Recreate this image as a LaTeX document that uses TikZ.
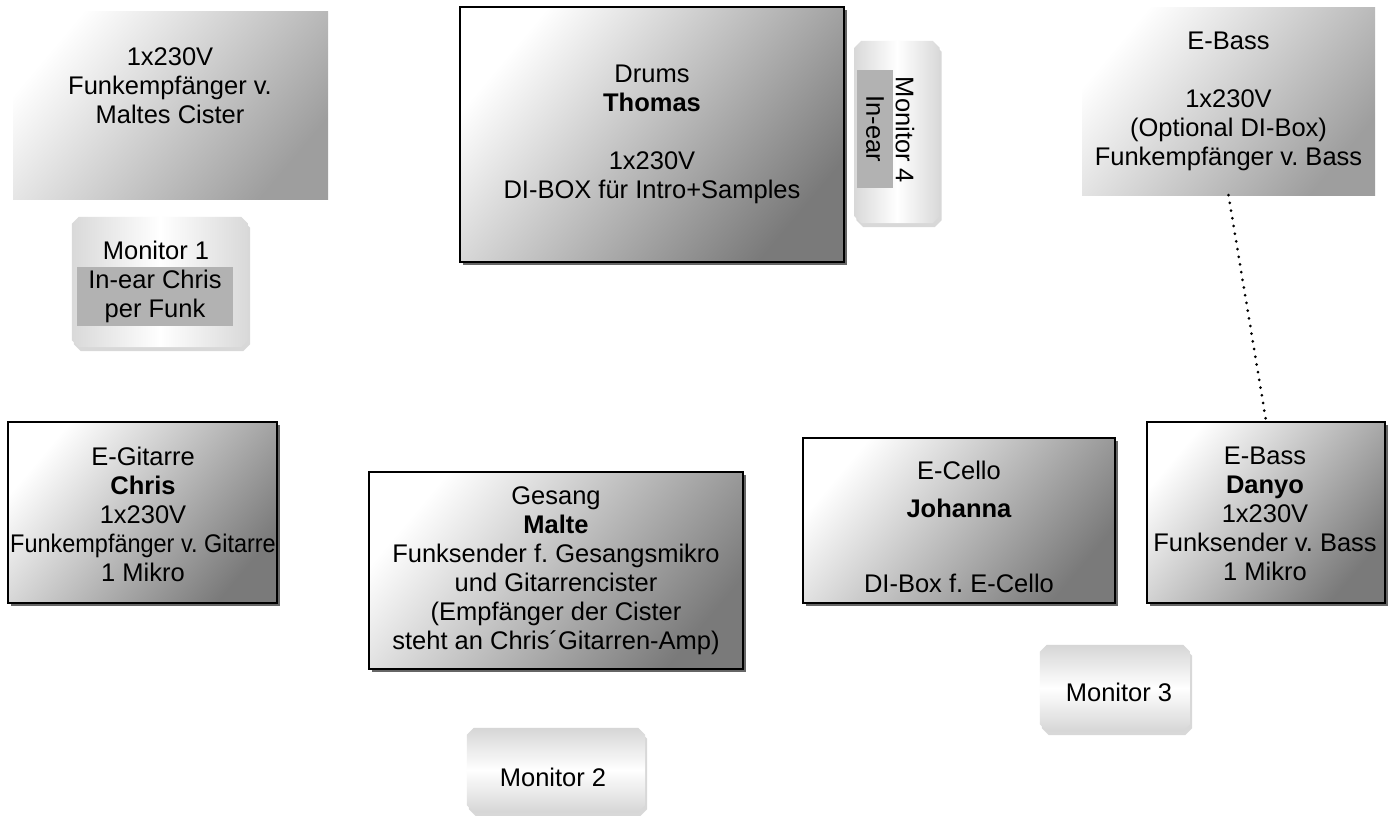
\documentclass[tikz,border=0pt]{standalone}
\usepackage{graphicx}
\usepackage{fontspec}
\setmainfont{Liberation Sans}
\usetikzlibrary{shadows}
\newcommand\monshape[2]{%
  \path[#2] ([xshift=7pt]#1.north west) -- ([xshift=-7pt]#1.north east) -- ([yshift=-7pt]#1.north east)
    -- ([yshift=7pt]#1.south east) -- ([xshift=-7pt]#1.south east) -- ([xshift=7pt]#1.south west)
    -- ([yshift=7pt]#1.south west) -- ([yshift=-7pt]#1.north west) -- cycle;}
\tikzset{
  txt/.style={align=center, font=\fontsize{25.5}{29}\selectfont\frenchspacing, inner sep=0pt},
  plainbox/.style={txt, rectangle, draw=none, top color=white, bottom color=black!38, shading angle=50},
  stagebox/.style={txt, rectangle, draw=black, line width=2.5pt, top color=white, bottom color=black!52, shading angle=50,
    drop shadow={shadow xshift=3pt, shadow yshift=-3pt, fill=black!60, opacity=1}},
  monframe/.style={rectangle, draw=none, inner sep=0pt},
  monbase/.style={drop shadow={shadow xshift=2pt, shadow yshift=-4pt, fill=black!25, opacity=0.6}},
  monv/.style={monbase, top color=black!16, bottom color=black!16, middle color=white},
  monh/.style={monbase, left color=black!15, right color=black!15, middle color=white},
  graylabel/.style={txt, rectangle, fill=black!30, draw=none},
  dotline/.style={line width=3pt, line cap=round, dash pattern=on 0pt off 7.8pt}
}
\begin{document}
\begin{tikzpicture}[x=1pt,y=-1pt]
\useasboundingbox[fill=white] (0,0) rectangle (1395,816);

% top row
\node[plainbox, minimum width=315pt, minimum height=187pt] (b1) at (170.5,105.5) {};
\node[txt] (b1t) at (170,86) {1x230V\\Funkempfänger v.\\Maltes Cister};

\node[stagebox, minimum width=384pt, minimum height=255pt] (drums) at (652,134.5)
  {Drums\\\textbf{Thomas}\\[29pt]1x230V\\DI-BOX für Intro+Samples};

\node[monframe, minimum width=85pt, minimum height=182pt] (m4) at (897,132) {};
\monshape{m4}{monh}
\node[graylabel, rotate=-90, minimum width=118pt, minimum height=36pt] (m4l) at (875,129) {In-ear};
\node[txt, rotate=-90] (m4t) at (905,130) {Monitor 4};

\node[plainbox, minimum width=293pt, minimum height=187pt] (ebt) at (1228.5,101.5)
  {E-Bass\\[29pt]1x230V\\(Optional DI-Box)\\Funkempfänger v. Bass};

% monitor 1
\node[monframe, minimum width=176pt, minimum height=130pt] (m1) at (160,282) {};
\monshape{m1}{monh}
\node[graylabel, minimum width=156pt, minimum height=59pt] (m1l) at (155,296.5) {In-ear Chris\\per Funk};
\node[txt] (m1t) at (156,250) {Monitor 1};

% middle row
\node[stagebox, minimum width=269pt, minimum height=181pt] (git) at (142.5,512.5) {};
\node[txt] (gitt) at (143,514) {E-Gitarre\\\textbf{Chris}\\1x230V\\\scalebox{0.92}[1]{Funkempfänger v. Gitarre}\\1 Mikro};

\node[stagebox, minimum width=374pt, minimum height=197pt] (malte) at (556,570.5)
  {Gesang\\\textbf{Malte}\\Funksender f. Gesangsmikro\\und Gitarrencister\\(Empfänger der Cister\\steht an Chris´Gitarren-Amp)};

\node[stagebox, minimum width=312pt, minimum height=165pt] (cello) at (959,520.5) {};
\node[txt] (cellot) at (959,527) {E-Cello\\[9pt]\textbf{Johanna}\\[46pt]DI-Box f. E-Cello};

\node[stagebox, minimum width=238pt, minimum height=181pt] (danyo) at (1266,512.5) {};
\node[txt] (danyot) at (1265,514) {E-Bass\\\textbf{Danyo}\\1x230V\\Funksender v. Bass\\1 Mikro};

% monitors 2 and 3
\node[monframe, minimum width=150pt, minimum height=86pt] (m3) at (1115,688) {};
\monshape{m3}{monv}
\node[txt] (m3t) at (1119,692) {Monitor 3};
\node[monframe, minimum width=178pt, minimum height=84pt] (m2) at (556,770) {};
\monshape{m2}{monv}
\node[txt] (m2t) at (553,777) {Monitor 2};

% connector
\draw[dotline] (ebt.south) -- (danyo.north);
\end{tikzpicture}
\end{document}
